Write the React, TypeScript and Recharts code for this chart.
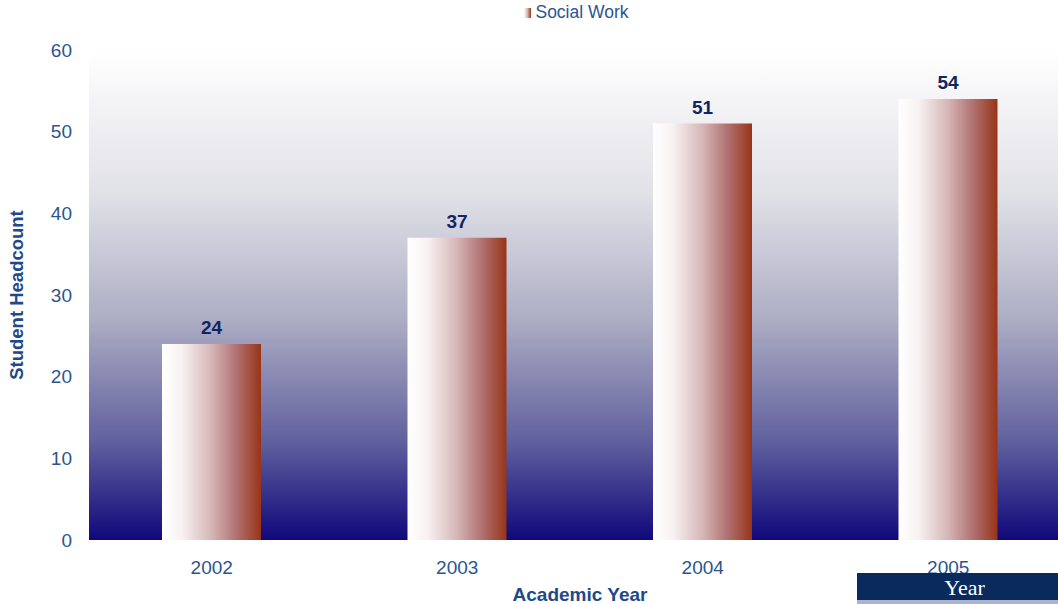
import React from 'react';
import { Bar, BarChart, CartesianGrid, XAxis, YAxis, Legend, LabelList } from 'recharts';

const years = ['2002', '2003', '2004', '2005'];
const socialWork = [24, 37, 51, 54];
const yTicks = [0, 10, 20, 30, 40, 50, 60];

const data = years.map((year, i) => ({ year, 'Social Work': socialWork[i] }));

const FONT = '"Liberation Sans", Arial, sans-serif';
const TEXT = '#2a5590';

function LegendBox() {
    return (
        <div style={{ display: 'flex', alignItems: 'center', justifyContent: 'center', fontFamily: FONT, fontSize: 17.5, color: TEXT, paddingLeft: 95 }}>
            <span style={{ display: 'inline-block', width: 7, height: 10, marginRight: 4, background: 'linear-gradient(to right, #ffffff, #d4b4b4, #9a3418)' }} />
            Social Work
        </div>
    );
}

export default function App() {
    return (
        <div style={{ position: 'absolute', left: 0, top: 0, width: 1058, height: 604, overflow: 'hidden', background: '#fff' }}>
            <BarChart
                width={1080}
                height={604}
                data={data}
                margin={{ top: 30, right: 9, left: 0, bottom: 0 }}
            >
                <defs>
                    <linearGradient id="bgFill" x1="0" y1="0" x2="0" y2="1">
                        <stop offset="0%" stopColor="#ffffff" />
                        <stop offset="30%" stopColor="#e0e0e7" />
                        <stop offset="55%" stopColor="#adadc4" />
                        <stop offset="80%" stopColor="#60609e" />
                        <stop offset="100%" stopColor="#10087a" />
                    </linearGradient>
                    <linearGradient id="barFill" x1="0" y1="0" x2="1" y2="0">
                        <stop offset="0%" stopColor="#ffffff" />
                        <stop offset="20%" stopColor="#f8f2f2" />
                        <stop offset="50%" stopColor="#d6b6b6" />
                        <stop offset="75%" stopColor="#b07272" />
                        <stop offset="100%" stopColor="#983418" />
                    </linearGradient>
                </defs>
                <CartesianGrid fill="url(#bgFill)" fillOpacity={1} stroke="none" horizontal={false} vertical={false} />
                <Legend verticalAlign="top" height={20} content={() => <LegendBox />} wrapperStyle={{ top: 2, left: 0, width: 1058 }} />
                <XAxis
                    dataKey="year"
                    axisLine={false}
                    tickLine={false}
                    tickMargin={15}
                    height={64}
                    tick={{ fill: TEXT, fontSize: 19, fontFamily: FONT }}
                    label={{ value: 'Academic Year', position: 'insideBottom', offset: 3, fill: '#1f4a87', fontSize: 19, fontWeight: 'bold', fontFamily: FONT }}
                />
                <YAxis
                    domain={[0, 60]}
                    ticks={yTicks}
                    axisLine={false}
                    tickLine={false}
                    tickMargin={11}
                    width={89}
                    tick={{ fill: TEXT, fontSize: 19, fontFamily: FONT }}
                    label={{ value: 'Student Headcount', angle: -90, position: 'insideLeft', offset: 16, style: { textAnchor: 'middle' }, fill: '#1f4a87', fontSize: 18.5, fontWeight: 'bold', fontFamily: FONT }}
                />
                <Bar dataKey="Social Work" fill="url(#barFill)" barSize={99} isAnimationActive={false}>
                    <LabelList dataKey="Social Work" position="top" offset={10} fill="#102662" fontSize={19} fontWeight="bold" fontFamily={FONT} />
                </Bar>
            </BarChart>
            <div style={{ position: 'absolute', left: 857, top: 573, width: 201, height: 27, background: '#0a2a5e', color: '#fff', fontFamily: '"Liberation Serif", "DejaVu Serif", serif', fontSize: 22, lineHeight: '30px', textAlign: 'center', paddingLeft: 14, boxSizing: 'border-box' }}>
                Year
            </div>
            <div style={{ position: 'absolute', left: 857, top: 600, width: 201, height: 4, background: '#aab4cc' }} />
        </div>
    );
}
